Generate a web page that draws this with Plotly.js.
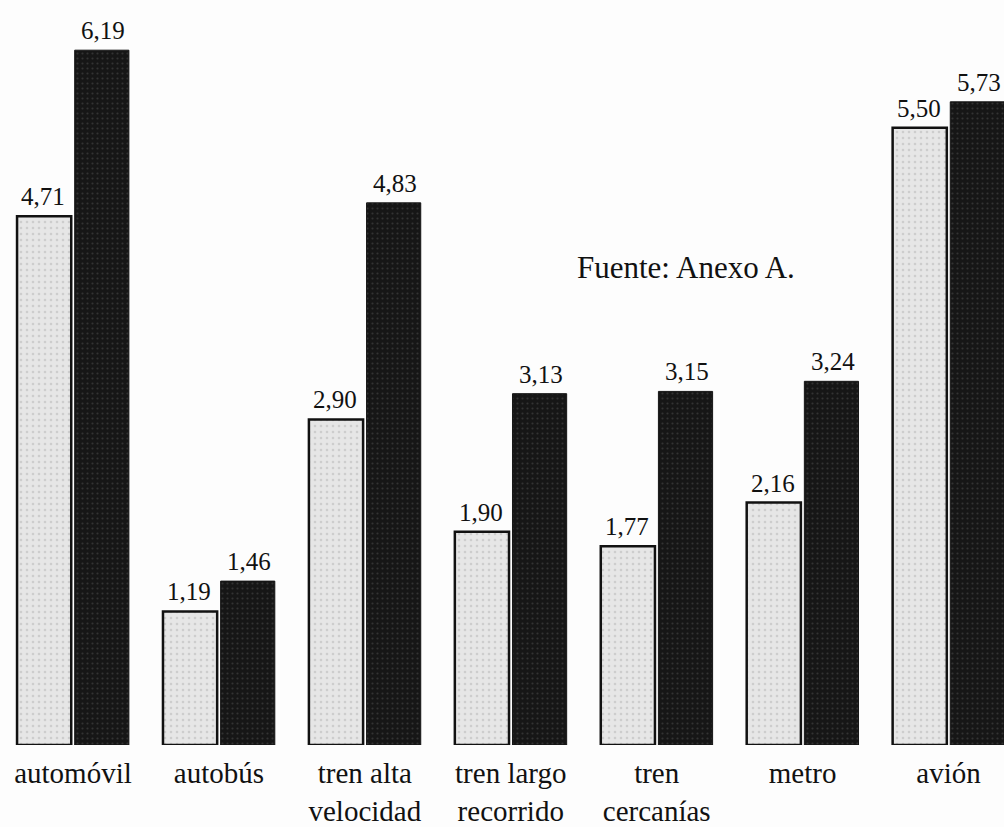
<!DOCTYPE html>
<html>
<head>
<meta charset="utf-8">
<script src="https://cdn.plot.ly/plotly-3.0.1.min.js"></script>
<style>html,body{margin:0;padding:0;overflow:hidden;background:#fff;}</style>
</head>
<body>
<div id="chart" style="width:1004px;height:827px;"></div>
<script>
var categories = ['automóvil', 'autobús', 'tren alta<br>velocidad', 'tren largo<br>recorrido', 'tren<br>cercanías', 'metro', 'avión'];
var serieClara = [4.71, 1.19, 2.90, 1.90, 1.77, 2.16, 5.50];
var serieOscura = [6.19, 1.46, 4.83, 3.13, 3.15, 3.24, 5.73];
var nota = 'Fuente: Anexo A.';

var serif = 'Liberation Serif, Times New Roman, serif';

var traces = [
  {
    type: 'bar', x: categories, y: serieClara, name: 'Serie 1',
    marker: {color: '#e3e3e3', line: {color: '#111', width: 2.5},
             pattern: {shape: '.', fgcolor: '#cdcdcd', bgcolor: '#e6e6e6', size: 6, solidity: 0.15}},
    hoverinfo: 'skip'
  },
  {
    type: 'bar', x: categories, y: serieOscura, name: 'Serie 2',
    marker: {color: '#161616', line: {color: '#161616', width: 1},
             pattern: {shape: '.', fgcolor: '#333', bgcolor: '#161616', size: 5, solidity: 0.15}},
    hoverinfo: 'skip'
  }
];

function fmt(v) { return v.toFixed(2).replace('.', ','); }

var annotations = [];
categories.forEach(function (c, i) {
  annotations.push({x: c, y: serieClara[i], xref: 'x', yref: 'y', text: fmt(serieClara[i]),
    showarrow: false, xanchor: 'center', yanchor: 'bottom', xshift: -30, yshift: 4,
    font: {family: serif, size: 25, color: '#111'}});
  annotations.push({x: c, y: serieOscura[i], xref: 'x', yref: 'y', text: fmt(serieOscura[i]),
    showarrow: false, xanchor: 'center', yanchor: 'bottom', xshift: 30, yshift: 4,
    font: {family: serif, size: 25, color: '#111'}});
});
annotations.push({xref: 'paper', yref: 'paper', x: 0.683, y: 0.66, text: nota, showarrow: false,
  xanchor: 'center', font: {family: serif, size: 31, color: '#111'}});

var layout = {
  width: 1004, height: 827,
  margin: {l: 0, r: 0, t: 21, b: 82},
  paper_bgcolor: '#fdfdfd', plot_bgcolor: '#fdfdfd',
  barmode: 'group', bargap: 0.21, bargroupgap: 0.06,
  separators: ',.',
  showlegend: false,
  font: {family: serif, color: '#111'},
  xaxis: {
    type: 'category', range: [-0.5, 6.38], showgrid: false, zeroline: false,
    showline: false, ticks: '', ticklabelstandoff: 8,
    tickfont: {family: serif, size: 29, color: '#111'}
  },
  yaxis: {range: [0, 6.45], visible: false, showgrid: false, zeroline: false},
  annotations: annotations
};

Plotly.newPlot('chart', traces, layout, {displayModeBar: false, staticPlot: true});
</script>
</body>
</html>
